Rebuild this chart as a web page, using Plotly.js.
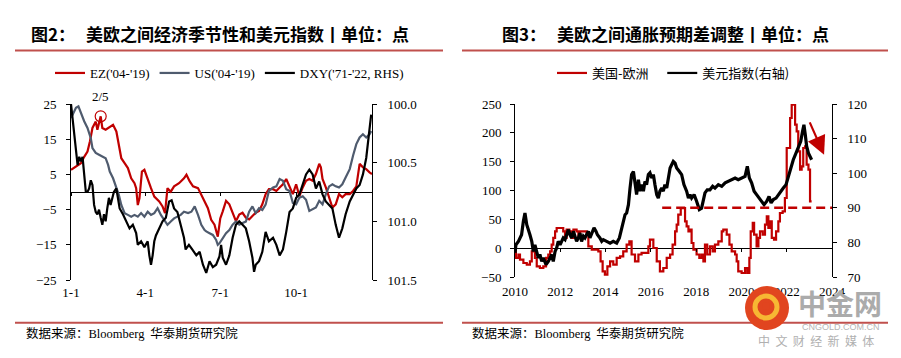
<!DOCTYPE html>
<html><head><meta charset="utf-8">
<script src="https://cdn.plot.ly/plotly-3.0.1.min.js"></script>
<style>html,body{margin:0;padding:0;background:#fff}#chart{width:901px;height:358px}</style>
</head><body><div id="chart"></div>
<script>
// ---------- Figure 2 data (day of year) ----------
const seasonTickDays = [0, 90, 181, 273];
const seasonTickText = ['1-1', '4-1', '7-1', '10-1'];
const ezDays = [0,6,12,16,20,23,26,30,32,36,38,42,47,51,55,58,61,65,69,73,77,79,81,83,86,89,93,97,101,107,111,114,117,121,125,131,137,140,144,148,154,158,162,166,170,174,178,181,184,188,192,196,200,204,208,212,216,220,224,228,232,236,240,245,249,253,257,261,265,269,273,277,281,285,289,293,297,301,303,305,309,313,317,321,325,329,333,338,342,346,350,354,358,362,365];
const ezVals = [6.3,7.3,8.2,10,11.5,14.4,18.2,20,17.7,21.5,18.2,17.7,18.6,19.1,17.2,13.4,9.6,8.2,6.8,3.9,2.5,1.1,-3.7,-1.8,5.8,6.3,3.5,1.1,-1.3,-2.7,-4.1,-6,1.1,0.1,1.6,2.5,3.9,4.9,3,1.6,1.1,-0.8,-2.7,-4.6,-7.9,-9.3,-12.7,-7.5,-5.5,-2.5,-3.5,-5.9,-8.3,-6.4,-5.9,-7.3,-7.8,-6.8,-5.9,-5.4,-3.5,-0.6,0.8,0.8,0.3,1.3,2.2,3.7,1.3,-0.6,2.2,-1.2,1.3,3.2,3.7,3.2,5.1,8,7,3.7,1.3,-1.5,-4.4,-3.5,-0.6,-1.5,-0.6,-0.6,0.3,1.6,8,7,6.5,5.6,5.1];
const usDays = [0,3,6,9,12,16,20,24,26,30,34,38,42,45,47,51,55,58,61,65,69,73,77,81,85,89,93,97,101,105,109,113,117,121,125,129,133,137,142,146,150,154,158,162,164,168,172,176,178,180,184,188,192,196,200,204,208,212,216,220,224,228,232,236,240,245,249,253,257,261,265,269,273,277,281,285,289,293,297,301,305,309,313,317,321,325,329,333,338,342,346,350,354,358,362,364];
const usVals = [21,22.4,23.9,24.3,22.4,20.1,18.2,15.3,12.5,11.1,10.6,10.1,9.6,7.7,5.8,3.9,1.1,-0.8,-3.7,-6,-6.5,-7,-6.5,-7,-6,-7,-5.6,-6.5,-6,-4.6,-6.5,-7.9,-9.3,-8.4,-7.5,-7,-6.5,-5.6,-6,-5.6,-4.1,-6.5,-9.3,-10.8,-11.2,-11.7,-12.2,-13.6,-15,-14.6,-13.1,-11.7,-10.8,-9.3,-8.4,-9.3,-8.8,-8.4,-5.6,-4.1,-6,-4.6,-5.1,-3.6,0.3,1.3,1.6,3.7,3.2,0.8,0.3,-3.1,-3.5,-1.6,-1.2,-2.2,-5.4,-4.9,-4.4,-2.5,-3.5,-0.6,1.6,2.2,1.6,1.3,2.2,4.1,6.5,10.3,13.6,15.5,16.4,15.5,16.4,17.3];
const dxySeasDays = [0,2,4,6,8,10,12,14,16,18,20,22,24,26,28,30,32,34,36,38,40,42,44,46,48,50,52,55,57,59,63,67,71,75,79,81,85,89,93,95,97,99,101,103,107,111,115,119,122,125,129,133,137,139,143,147,152,156,160,164,168,172,176,180,182,184,188,192,196,200,204,208,212,216,220,222,224,228,232,236,240,245,249,253,257,261,265,269,273,277,281,285,289,293,297,301,305,309,313,317,321,325,329,333,338,342,346,350,354,358,360,362,364];
const dxySeasVals = [100.00,100.12,100.29,100.40,100.52,100.45,100.49,100.45,100.60,100.75,100.75,100.72,100.65,100.69,100.86,100.92,100.94,100.90,100.97,101.03,100.94,101.00,100.89,100.80,100.86,100.80,100.75,100.72,100.80,100.89,100.94,101.00,101.06,101.03,101.10,101.20,101.17,101.22,101.17,101.29,101.37,101.29,101.17,101.12,101.06,101.00,100.97,100.83,100.82,100.89,100.92,101.03,101.14,101.24,101.20,101.24,101.29,101.26,101.37,101.44,101.34,101.39,101.37,101.30,101.20,101.31,101.37,101.29,101.14,101.03,101.00,101.03,101.06,101.17,101.31,101.43,101.37,101.34,101.26,101.09,101.17,101.14,101.20,101.29,101.24,101.09,100.92,100.89,100.80,100.77,100.69,100.60,100.56,100.60,100.72,100.66,100.77,100.83,100.86,100.89,101.03,101.14,101.06,100.94,100.83,100.77,100.72,100.69,100.60,100.46,100.32,100.18,100.09];
const seasLeftTicks = [-25,-15,-5,5,15,25];
const seasRightTicks = [100.0,100.5,101.0,101.5];

// ---------- Figure 3 data (decimal year) ----------
const yearTicks = [2010,2012,2014,2016,2018,2020,2022,2024];
const spreadYears = [2010.0,2010.04,2010.15,2010.22,2010.37,2010.52,2010.66,2010.74,2010.81,2010.88,2010.96,2011.10,2011.25,2011.37,2011.47,2011.55,2011.62,2011.69,2011.77,2011.84,2011.99,2012.13,2012.21,2012.28,2012.40,2012.50,2012.58,2012.72,2012.80,2012.87,2013.02,2013.16,2013.24,2013.39,2013.53,2013.68,2013.78,2013.87,2013.97,2014.08,2014.20,2014.34,2014.49,2014.64,2014.78,2014.93,2015.05,2015.15,2015.30,2015.45,2015.59,2015.74,2015.89,2015.96,2016.11,2016.26,2016.40,2016.55,2016.70,2016.85,2016.96,2017.07,2017.14,2017.21,2017.32,2017.41,2017.51,2017.58,2017.66,2017.73,2017.80,2017.88,2018.02,2018.14,2018.24,2018.32,2018.39,2018.49,2018.61,2018.73,2018.83,2018.98,2019.13,2019.20,2019.35,2019.47,2019.57,2019.72,2019.79,2019.86,2020.01,2020.16,2020.26,2020.35,2020.41,2020.50,2020.56,2020.67,2020.75,2020.82,2020.94,2021.04,2021.12,2021.19,2021.26,2021.34,2021.44,2021.53,2021.63,2021.70,2021.82,2021.92,2022.00,2022.07,2022.15,2022.22,2022.29,2022.37,2022.44,2022.51,2022.59,2022.66,2022.73,2022.81,2022.88,2022.96,2023.03,2023.10];
const spreadVals = [6.1,-17,-11,-20,-25.7,-28.6,-22.8,-5.5,0.3,-17,-31.5,-34.4,-31.5,-17,-11,-5.5,6.1,17.7,29.2,35,35,29.2,17.7,32,29.2,17.7,32,29.2,17.7,29.2,29.2,23.4,3.2,-2.6,-2.6,-5.5,-22.8,-40.2,-46,-31.5,-22.8,-28.6,-17,-14.2,-5.5,6.1,11.8,-11,-22.8,-11,-8.2,-8.2,3.2,14.7,0.3,-22.8,-40.2,-34.4,-17,-11,6.1,29.2,40.8,58.1,69.6,69.6,46.5,37.9,29.2,32,9,-2.6,-11,-17,-11,-22.8,6.1,-11,3.2,-5.5,6.1,11.8,29.2,32,23.4,6.1,-5.5,-11,-22.8,-40.2,-43.1,-34.4,-43.1,-17,29.2,43.7,23.4,3.2,17.7,29.2,23.4,40.8,55.2,35,46.5,17.7,14.7,29.2,46.5,61,63.9,87,173.7,173.7,225.7,248.8,248.8,214.2,202.6,168,136.1,141.9,173.7,176.6,144.8,136.1,81.2,81.2];
const dxyYears = [2010.0,2010.04,2010.15,2010.22,2010.29,2010.37,2010.44,2010.52,2010.59,2010.66,2010.74,2010.81,2010.88,2010.96,2011.03,2011.10,2011.18,2011.25,2011.37,2011.47,2011.55,2011.62,2011.69,2011.77,2011.84,2011.91,2011.99,2012.06,2012.13,2012.21,2012.28,2012.36,2012.43,2012.50,2012.58,2012.65,2012.72,2012.80,2012.87,2012.94,2013.02,2013.09,2013.16,2013.24,2013.31,2013.39,2013.49,2013.58,2013.64,2013.75,2013.83,2013.90,2014.05,2014.20,2014.34,2014.49,2014.61,2014.71,2014.78,2014.86,2014.93,2015.01,2015.08,2015.15,2015.23,2015.30,2015.37,2015.45,2015.52,2015.59,2015.67,2015.74,2015.81,2015.89,2015.96,2016.04,2016.11,2016.18,2016.26,2016.33,2016.40,2016.48,2016.55,2016.62,2016.70,2016.85,2016.92,2016.99,2017.07,2017.14,2017.26,2017.36,2017.46,2017.58,2017.66,2017.73,2017.80,2017.91,2018.02,2018.14,2018.24,2018.32,2018.39,2018.49,2018.61,2018.73,2018.83,2018.98,2019.13,2019.28,2019.42,2019.57,2019.72,2019.86,2020.01,2020.16,2020.26,2020.35,2020.45,2020.56,2020.67,2020.79,2020.89,2021.00,2021.12,2021.22,2021.31,2021.41,2021.53,2021.63,2021.73,2021.85,2021.97,2022.07,2022.18,2022.29,2022.41,2022.51,2022.62,2022.70,2022.76,2022.82,2022.88,2022.96,2023.03,2023.10];
const dxyLevels = [77,79.3,80.3,81.3,82.2,86.1,88.5,85.1,83.2,82.2,80.3,77.4,79.3,77.4,75.5,76.5,74.5,75.5,73.6,74.5,75.5,76.5,74.5,77.4,78.4,80.3,79.3,80.3,81.3,80.8,82.2,83.7,82.2,81.3,83.2,81.3,80.3,81.3,82.7,80.3,81.8,81.3,82.2,83.2,81.3,82.7,84.2,83.2,82.2,81.3,80.3,80.8,80.3,79.8,80.3,79.8,81.3,83.7,86.1,88,88.5,90.9,95.7,99.6,100.5,96.7,93.8,98.1,94.8,96.7,94.8,97.6,96.7,99.6,100.1,98.6,99.6,96.7,93.8,92.8,94.8,95.7,94.8,96.7,95.7,101.5,102.5,103.4,102.9,101.5,100.5,99.6,96.7,94.8,92.8,93.8,92.8,93.8,91.9,89.5,89.9,92.8,94.3,95.2,95.2,96.2,95.7,96.7,96.2,97.2,97.6,98.1,98.6,98.1,98.6,99.1,102.0,98.6,97.2,94.8,93.8,92.8,91.9,90.9,91.9,93.3,91.4,92.4,92.8,93.8,94.8,95.7,96.7,99.1,101.0,103.9,105.8,107.3,109.2,112.1,114.0,111.1,107.8,105.8,104.9,103.9];
const refLineYears = [2016.5, 2024];
const refLineLevels = [90, 90];
const spreadTicks = [-50,0,50,100,150,200,250];
const dxyTicks = [70,80,90,100,110,120];

// ---------- layout helpers (pixel -> paper) ----------
const W = 901, H = 358;
const px = v => v / W;
const py = v => 1 - v / H;
const RED = '#C00000', GREY = '#4F5B6E', RULE = '#C0504D';
const serif = 'Liberation Serif, Times New Roman, serif';
const cjk = 'Noto Sans CJK SC, sans-serif';
const tickFont = {family: serif, size: 13, color: '#000'};
const NB = '\u00a0';

const yDomL = [py(280), py(104)];
const yDomR = [py(277), py(104)];
const zeroL = yDomL[0] + (0 - seasLeftTicks[0]) / (seasLeftTicks[5] - seasLeftTicks[0]) * (yDomL[1] - yDomL[0]);
const zeroR = yDomR[0] + (0 - spreadTicks[0]) / (spreadTicks[6] - spreadTicks[0]) * (yDomR[1] - yDomR[0]);

// peak of EZ series (the circled 2/5 point)
let pk = 0; ezVals.forEach((v, i) => { if (v > ezVals[pk]) pk = i; });

const traces = [
  {x: ezDays, y: ezVals, xaxis: 'x', yaxis: 'y', mode: 'lines', name: "EZ('04-'19)", line: {color: RED, width: 2.2}, legend: 'legend'},
  {x: usDays, y: usVals, xaxis: 'x', yaxis: 'y', mode: 'lines', name: "US('04-'19)", line: {color: GREY, width: 2.2}, legend: 'legend'},
  {x: dxySeasDays, y: dxySeasVals, xaxis: 'x', yaxis: 'y2', mode: 'lines', name: "DXY('71-'22, RHS)", line: {color: '#000', width: 2.2}, legend: 'legend'},
  {x: [ezDays[pk]], y: [ezVals[pk]], xaxis: 'x', yaxis: 'y', mode: 'markers', showlegend: false, hoverinfo: 'skip',
   marker: {symbol: 'circle-open', size: 11, color: RED, line: {width: 1.2, color: RED}}},
  {x: [], y: [], xaxis: 'x3', yaxis: 'y', showlegend: false},
  {x: spreadYears, y: spreadVals, xaxis: 'x2', yaxis: 'y3', mode: 'lines', name: '美国-欧洲' + NB + NB + NB, line: {color: RED, width: 2.2, shape: 'hv'}, legend: 'legend2'},
  {x: dxyYears, y: dxyLevels, xaxis: 'x2', yaxis: 'y4', mode: 'lines', name: '美元指数(右轴)', showlegend: false, line: {color: '#000', width: 3.2}},
  {x: [null], y: [null], xaxis: 'x2', yaxis: 'y4', mode: 'lines', name: '美元指数(右轴)', line: {color: '#000', width: 2.2}, legend: 'legend2'},
  {x: refLineYears, y: refLineLevels, xaxis: 'x2', yaxis: 'y4', mode: 'lines', showlegend: false, line: {color: RED, width: 2.5, dash: '9px,5px'}},
  {x: [], y: [], xaxis: 'x4', yaxis: 'y3', showlegend: false}
];

const baseY = {showgrid: false, zeroline: false, showline: true, linecolor: '#000', linewidth: 1, ticks: 'outside', ticklen: 4, tickcolor: '#000', tickwidth: 1, tickfont: tickFont, fixedrange: true};
const baseX = {showgrid: false, zeroline: false, showline: false, ticks: '', tickfont: tickFont, fixedrange: true};

const layout = {
  width: W, height: H, margin: {l: 0, r: 0, t: 0, b: 0},
  paper_bgcolor: '#fff', plot_bgcolor: 'rgba(0,0,0,0)',
  showlegend: true,
  xaxis: Object.assign({}, baseX, {domain: [px(71), px(372)], range: [0, 365], tickvals: seasonTickDays, ticktext: seasonTickText, anchor: 'y', ticklabelstandoff: 3}),
  xaxis3: {overlaying: 'x', range: [0, 365], anchor: 'free', position: zeroL, showgrid: false, zeroline: false, showline: false, ticks: 'outside', ticklen: 3, tickcolor: '#000', tickvals: seasonTickDays, showticklabels: false, fixedrange: true},
  yaxis: Object.assign({}, baseY, {domain: yDomL, range: [-25, 25], tickvals: seasLeftTicks, anchor: 'x', zeroline: true, zerolinecolor: '#000', zerolinewidth: 1, ticklabelstandoff: 7}),
  yaxis2: Object.assign({}, baseY, {overlaying: 'y', side: 'right', anchor: 'x', range: [101.5, 100.0], tickvals: seasRightTicks, tickformat: '.1f', ticklabelstandoff: 8}),
  xaxis2: Object.assign({}, baseX, {domain: [px(515), px(832)], range: [2010, 2024], tickvals: yearTicks, anchor: 'y3', ticklabelstandoff: 5}),
  xaxis4: {overlaying: 'x2', range: [2010, 2024], anchor: 'free', position: zeroR, showgrid: false, zeroline: false, showline: false, ticks: 'outside', ticklen: 3, tickcolor: '#000', tickvals: yearTicks, showticklabels: false, fixedrange: true},
  yaxis3: Object.assign({}, baseY, {domain: yDomR, range: [-50, 250], tickvals: spreadTicks, anchor: 'x2', zeroline: true, zerolinecolor: '#000', zerolinewidth: 1, ticklabelstandoff: 6}),
  yaxis4: Object.assign({}, baseY, {overlaying: 'y3', side: 'right', anchor: 'x2', range: [70, 120], tickvals: dxyTicks, ticklabelstandoff: 8}),
  legend: {orientation: 'h', x: px(50), y: py(73), xanchor: 'left', yanchor: 'middle', font: {family: serif, size: 13, color: '#000'}, bgcolor: 'rgba(0,0,0,0)', itemwidth: 30, tracegroupgap: 0},
  legend2: {orientation: 'h', x: px(552), y: py(73), xanchor: 'left', yanchor: 'middle', font: {family: cjk, size: 13, color: '#000'}, bgcolor: 'rgba(0,0,0,0)', itemwidth: 30, tracegroupgap: 0},
  shapes: [
    {type: 'line', xref: 'paper', yref: 'paper', x0: px(15), x1: px(443), y0: py(50.5), y1: py(50.5), line: {color: RULE, width: 2.2}},
    {type: 'line', xref: 'paper', yref: 'paper', x0: px(462), x1: px(888), y0: py(50.5), y1: py(50.5), line: {color: RULE, width: 2.2}},
    {type: 'line', xref: 'paper', yref: 'paper', x0: px(15), x1: px(443), y0: py(322.7), y1: py(322.7), line: {color: RULE, width: 2}},
    {type: 'line', xref: 'paper', yref: 'paper', x0: px(462), x1: px(888), y0: py(322.7), y1: py(322.7), line: {color: RULE, width: 2}},
    // watermark logo
    {type: 'circle', xref: 'paper', yref: 'paper', x0: px(745), x1: px(789), y0: py(330), y1: py(286), fillcolor: '#E1451F', line: {width: 0}, layer: 'above'},
    {type: 'circle', xref: 'paper', yref: 'paper', x0: px(755), x1: px(777), y0: py(318), y1: py(296), fillcolor: 'rgba(0,0,0,0)', line: {color: '#F7B733', width: 5}, layer: 'above'},
    {type: 'circle', xref: 'paper', yref: 'paper', x0: px(762), x1: px(770), y0: py(310), y1: py(302), fillcolor: '#E1451F', line: {width: 0}, layer: 'above'}
  ],
  annotations: [
    {xref: 'paper', yref: 'paper', x: px(29), y: py(33), xanchor: 'left', yanchor: 'middle', showarrow: false, text: '<b>图2：</b>', font: {family: cjk, size: 17, color: '#000'}},
    {xref: 'paper', yref: 'paper', x: px(84), y: py(33), xanchor: 'left', yanchor: 'middle', showarrow: false, text: '<b>美欧之间经济季节性和美元指数丨单位：点</b>', font: {family: cjk, size: 17, color: '#000'}},
    {xref: 'paper', yref: 'paper', x: px(500), y: py(33), xanchor: 'left', yanchor: 'middle', showarrow: false, text: '<b>图3：</b>', font: {family: cjk, size: 17, color: '#000'}},
    {xref: 'paper', yref: 'paper', x: px(555), y: py(33), xanchor: 'left', yanchor: 'middle', showarrow: false, text: '<b>美欧之间通胀预期差调整丨单位：点</b>', font: {family: cjk, size: 17, color: '#000'}},
    {xref: 'paper', yref: 'paper', x: px(24), y: py(332), xanchor: 'left', yanchor: 'middle', showarrow: false, text: '数据来源：<span style="font-family:Liberation Serif">Bloomberg</span>  华泰期货研究院', font: {family: cjk, size: 12.5, color: '#000'}},
    {xref: 'paper', yref: 'paper', x: px(470), y: py(332), xanchor: 'left', yanchor: 'middle', showarrow: false, text: '数据来源：<span style="font-family:Liberation Serif">Bloomberg</span>  华泰期货研究院', font: {family: cjk, size: 12.5, color: '#000'}},
    {xref: 'x', yref: 'y', x: ezDays[pk], y: ezVals[pk], yshift: 20, showarrow: false, text: '2/5', font: {family: serif, size: 13, color: '#000'}},
    {xref: 'x2', yref: 'y4', x: 2023.65, y: 105.3, ax: -15, ay: -34, showarrow: true, arrowhead: 2, arrowsize: 1.7, arrowwidth: 2.2, arrowcolor: RED, text: ''},
    // watermark texts
    {xref: 'paper', yref: 'paper', x: px(840), y: py(303), xanchor: 'center', yanchor: 'middle', showarrow: false, text: '<b>中金网</b>', font: {family: cjk, size: 28, color: '#ABABAB'}},
    {xref: 'paper', yref: 'paper', x: px(841), y: py(327), xanchor: 'center', yanchor: 'middle', showarrow: false, text: 'CNGOLD.COM.CN', font: {family: 'Liberation Sans, Arial, sans-serif', size: 9, color: '#B5B5B5'}},
    {xref: 'paper', yref: 'paper', x: px(816), y: py(340), xanchor: 'center', yanchor: 'middle', showarrow: false, text: '中  文  财  经  新  媒  体', font: {family: cjk, size: 12, color: '#B0B0B0'}}
  ]
};

Plotly.newPlot('chart', traces, layout, {displayModeBar: false, staticPlot: true});
</script>
</body></html>
